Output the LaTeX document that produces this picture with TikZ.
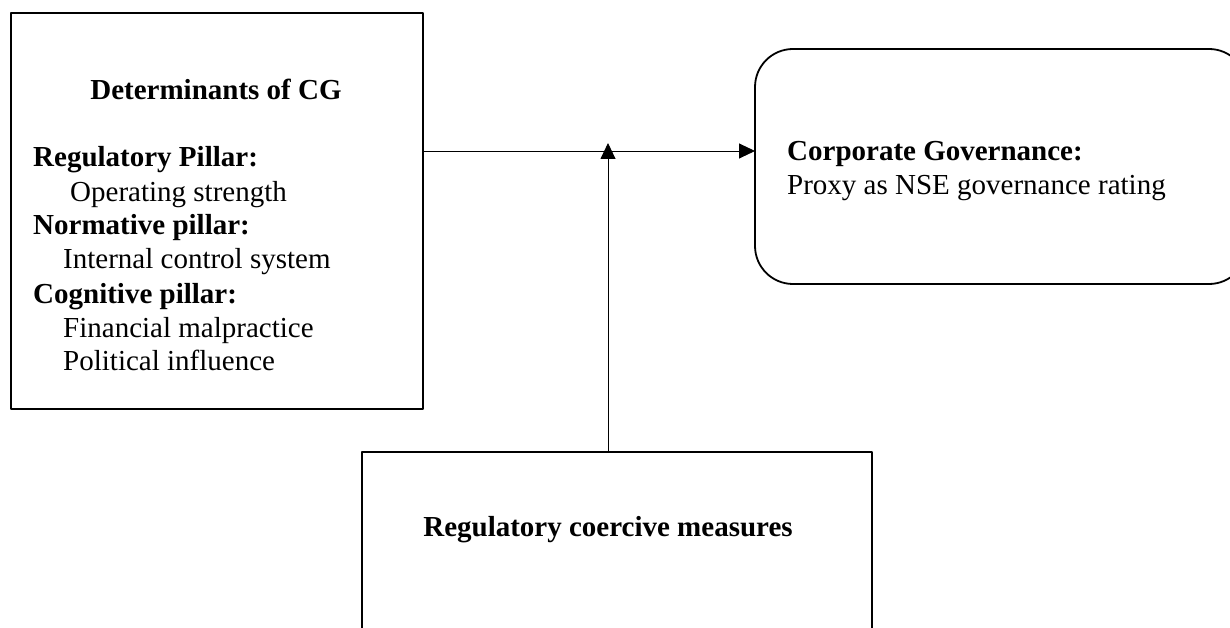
\documentclass[tikz,border=0pt]{standalone}
\usepackage{fontspec}
\setmainfont{Liberation Serif}
\usetikzlibrary{arrows.meta,positioning,calc}
\tikzset{every picture/.style={line cap=round, line join=round}}
\tikzset{box/.style={draw, rectangle, line width=1.8pt, inner sep=0pt, outer sep=0pt}}
\tikzset{arrow/.style={-{Triangle[length=16pt 0,width=15pt 0]}, line width=0.9pt}}
\tikzset{txt/.style={anchor=base west, inner sep=0pt, font=\fontsize{29}{34}\selectfont}}
\tikzset{head/.style={txt, font=\fontsize{29}{34}\selectfont\bfseries}}

\begin{document}
\begin{tikzpicture}[x=1pt,y=-1pt]
  \useasboundingbox (0,0) rectangle (1230,628);

  % Determinants
  \node[box, minimum width=412pt, minimum height=396pt] (det) at (217,211) {};
  \node[head, anchor=base] (dettitle) at (216,100) {Determinants of CG};
  \node[head] (reg) at (33,167) {Regulatory Pillar:};
  \node[txt] (regitem) at (70,202) {Operating strength};
  \node[head] (norm) at (33,235) {Normative pillar:};
  \node[txt] (normitem) at (63,268) {Internal control system};
  \node[head] (cog) at (33,303) {Cognitive pillar:};
  \node[txt] (cogitemA) at (63,337) {Financial malpractice};
  \node[txt] (cogitemB) at (63,370) {Political influence};

  % Corporate governance
  \node[box, rounded corners=38pt, minimum width=492pt, minimum height=235pt] (cg) at (1001,166.5) {};
  \node[head] (cgtitle) at (787,161) {Corporate Governance:};
  \node[txt] (cgitem) at (787,195) {Proxy as NSE governance rating};

  % Moderator
  \node[box, minimum width=510pt, minimum height=208pt] (rcm) at (617,556) {};
  \node[head, anchor=base] (rcmtitle) at (608,536) {Regulatory coercive measures};

  % links
  \coordinate (mid) at (608,151);
  \coordinate (join) at (608,143);
  \draw[arrow] (det.east |- mid) -- (cg.west |- mid);
  \draw[arrow] (rcm.north -| mid) -- (join);
\end{tikzpicture}
\end{document}
